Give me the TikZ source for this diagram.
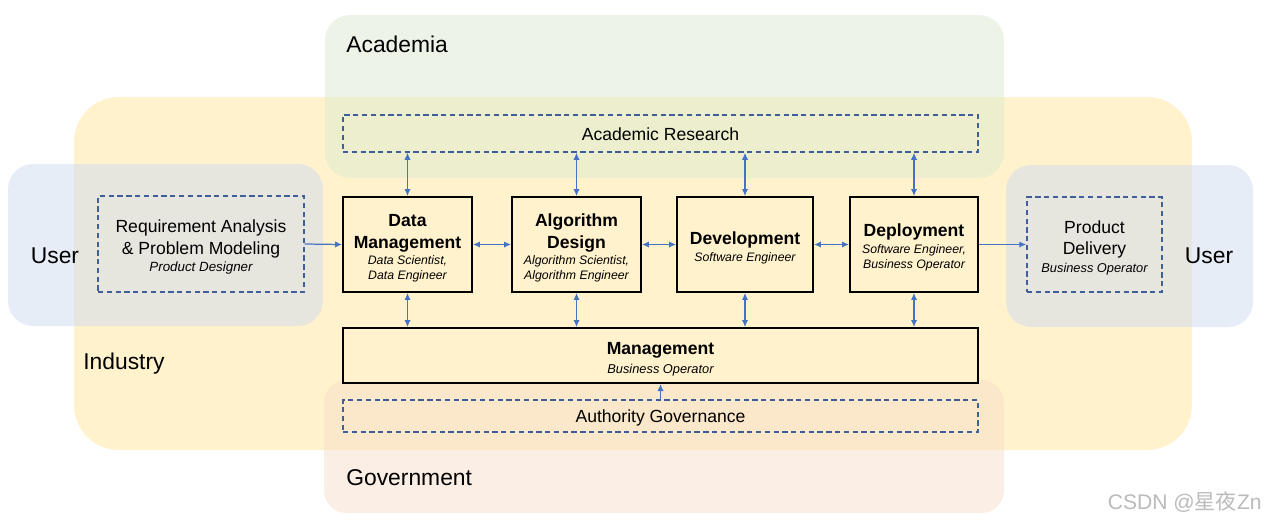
\documentclass[tikz,border=0pt]{standalone}
\usepackage{fontspec}
\setmainfont{Liberation Sans}
\newfontfamily\cjkfont{Noto Sans CJK SC}
\usetikzlibrary{arrows.meta}
\definecolor{indfill}{HTML}{FFF2CC}
\definecolor{acafill}{HTML}{DCEBD1}
\definecolor{userfill}{HTML}{D1DCF1}
\definecolor{govfill}{HTML}{F8DFCB}
\definecolor{dashcol}{HTML}{3E5F99}
\definecolor{arrcol}{HTML}{4472C4}
\definecolor{wmcol}{HTML}{BBBBBB}
\newcommand\rolefont{\fontsize{7pt}{8.5pt}\selectfont\mdseries\itshape}
\newcommand\regionfont{\fontsize{13pt}{15pt}\selectfont}
\newcommand\dnstrut[1]{\rule{0pt}{#1}}
\begin{document}
\begin{tikzpicture}[x=0.02cm,y=-0.02cm,
  region/.style={fill=#1, fill opacity=0.5, draw=none},
  regionlabel/.style={font=\regionfont, inner sep=0pt, text=black},
  procbox/.style={draw=black, line width=1.1pt, fill=indfill, align=center, inner sep=0pt,
     font=\fontsize{10pt}{12.5pt}\selectfont\bfseries},
  dashbox/.style={draw=dashcol, line width=0.85pt, dash pattern=on 3pt off 2pt, align=center,
     inner sep=0pt, font=\fontsize{10pt}{12pt}\selectfont},
  arr/.style={draw=arrcol, line width=0.7pt, -{Latex[length=4pt,width=3.6pt]}},
  darr/.style={draw=arrcol, line width=0.7pt, {Latex[length=4pt,width=3.6pt]}-{Latex[length=4pt,width=3.6pt]}}
]
\fill[white] (0,0) rectangle (1267,525);
\useasboundingbox (0,0) rectangle (1267,525);

% regions
\fill[indfill, rounded corners=0.9cm] (74,97) rectangle (1192,450);
\fill[region=acafill, rounded corners=0.5cm] (325,15) rectangle (1004,178);
\fill[region=govfill, rounded corners=0.45cm] (324,380) rectangle (1004,513);
\fill[region=userfill, rounded corners=0.5cm] (8,164) rectangle (323,326);
\fill[region=userfill, rounded corners=0.5cm] (1006,165) rectangle (1253,327);

\node[regionlabel, anchor=west] (acaL) at (346,44.5) {Academia};
\node[regionlabel, anchor=west] (indL) at (83,363.5) {Industry};
\node[regionlabel, anchor=west] (govL) at (346,478) {Government};
\node[regionlabel] (userL) at (55,256) {User};
\node[regionlabel] (userR) at (1209,256) {User};

% dashed boxes
\node[dashbox, minimum width=4.12cm, minimum height=1.92cm] (req) at (201,244)
  {\dnstrut{11.2pt}Requirement Analysis\\\& Problem Modeling\\[-1.8pt]{\rolefont\fontsize{7.6pt}{9pt}\selectfont Product Designer}};
\node[dashbox, minimum width=2.7cm, minimum height=1.9cm] (pd) at (1094.5,244.5)
  {\dnstrut{11.2pt}Product\\Delivery\\[-1.5pt]{\rolefont\fontsize{7.3pt}{9pt}\selectfont Business Operator}};
\node[dashbox, minimum width=12.7cm, minimum height=0.74cm] (ar) at (660.5,133.5) {\dnstrut{8pt}Academic Research};
\node[dashbox, minimum width=12.7cm, minimum height=0.64cm, text depth=0pt] (ag) at (660.5,416) {Authority Governance};

% process boxes
\node[procbox, minimum width=2.58cm, minimum height=1.9cm] (dm) at (407.5,244.5)
  {\dnstrut{11.3pt}Data\\Management\\[-3.3pt]{\rolefont Data Scientist,}\\[-4pt]{\rolefont Data Engineer}};
\node[procbox, minimum width=2.58cm, minimum height=1.9cm] (ad) at (576.5,244.5)
  {\dnstrut{11.3pt}Algorithm\\Design\\[-3.3pt]{\rolefont Algorithm Scientist,}\\[-4pt]{\rolefont Algorithm Engineer}};
\node[procbox, minimum width=2.72cm, minimum height=1.9cm] (dev) at (745,244.5)
  {\dnstrut{11.3pt}Development\\[-3pt]{\rolefont Software Engineer}};
\node[procbox, minimum width=2.56cm, minimum height=1.9cm] (dep) at (914,244.5)
  {\dnstrut{10.3pt}Deployment\\[-3pt]{\rolefont Software Engineer,}\\[-4pt]{\rolefont Business Operator}};
\node[procbox, minimum width=12.7cm, minimum height=1.1cm] (mg) at (660.5,355.5)
  {\dnstrut{11.3pt}Management\\[-2pt]{\rolefont\fontsize{7.3pt}{9pt}\selectfont Business Operator}};

% connectors
\draw[arr] (req.east) -- (dm.west);
\draw[darr] (dm.east) -- (ad.west);
\draw[darr] (ad.east) -- (dev.west);
\draw[darr] (dev.east) -- (dep.west);
\draw[arr] (dep.east) -- (pd.west);
\foreach \n in {dm,ad,dev,dep}{
  \draw[darr] (ar.south -| \n.north) -- (\n.north);
  \draw[darr] (\n.south) -- (mg.north -| \n.south);
}
\draw[arr] (ag.north) -- (mg.south);

% watermark
\node[anchor=east, inner sep=0pt, text=wmcol, font=\fontsize{12pt}{14pt}\selectfont] (wm) at (1262,502)
  {CSDN @{\cjkfont 星夜}Zn};
\end{tikzpicture}
\end{document}
